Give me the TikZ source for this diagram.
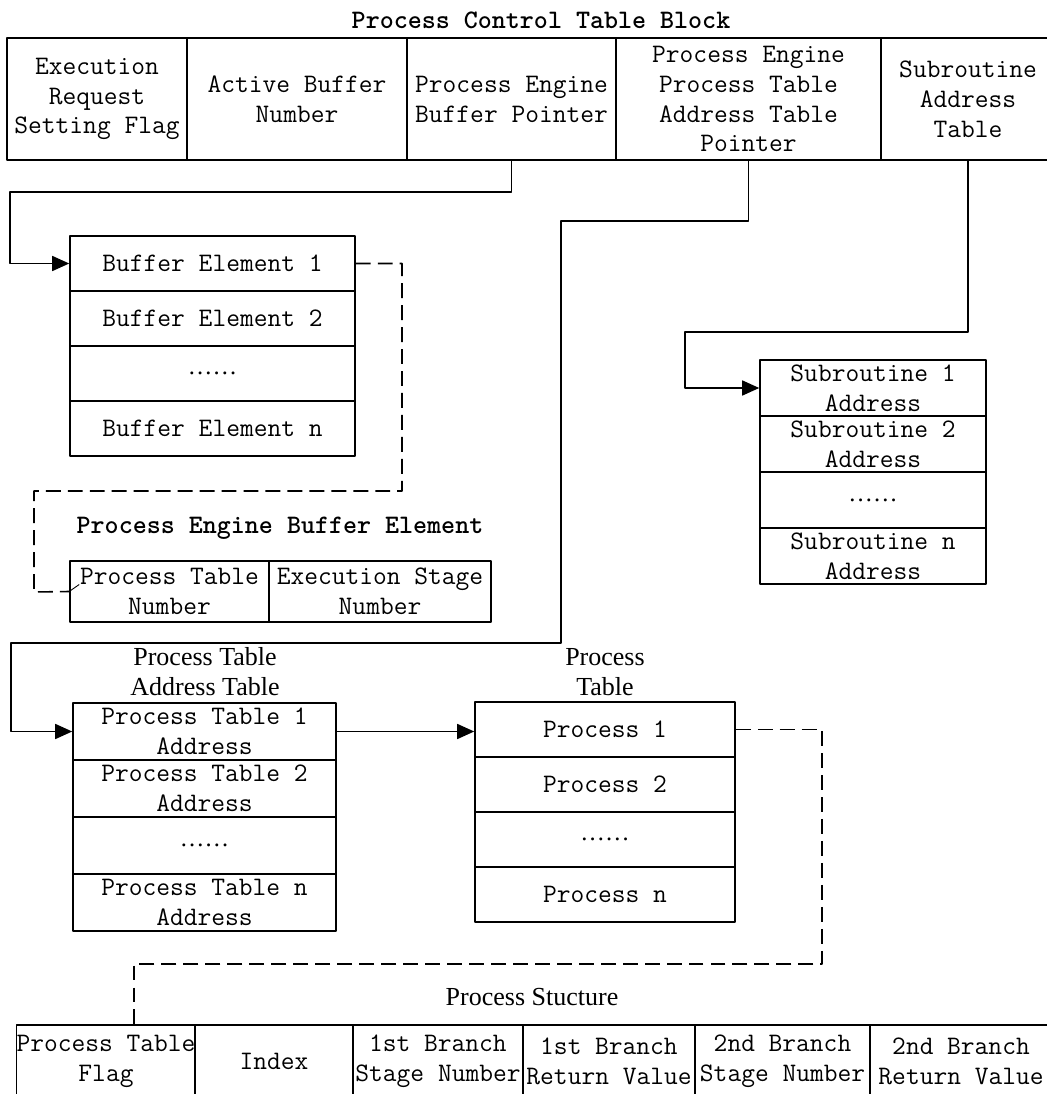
\documentclass[tikz,border=0pt]{standalone}
\usepackage{fontspec}
\usetikzlibrary{arrows.meta}
\newfontfamily\headfont{Liberation Serif}
\newcommand\rowdots{{\headfont\fontsize{14}{14}\selectfont ……}}
\begin{document}
\begin{tikzpicture}[x=0.02cm, y=-0.02cm, line join=round, line width=0.9pt,
  >={Triangle[length=0.34cm,width=0.3cm]},
  font=\ttfamily\fontsize{15.2}{17}\selectfont,
  cell/.style 2 args={draw, align=center, inner sep=0pt, minimum width=#1*0.02cm, minimum height=#2*0.02cm},
  ttl/.style={font=\ttfamily\bfseries\fontsize{15.2}{17}\selectfont},
  hd/.style={font=\headfont\fontsize{14.8}{17}\selectfont, align=center},
  gap/.style={dash pattern=on 8.5pt off 4pt}]
\useasboundingbox (0,0) rectangle (1046,1094);

% process control table block
\node[ttl] (pctb) at (541,20) {Process Control Table Block};
\node[cell={180}{122}] (c1) at (97,99) {Execution\\Request\\Setting Flag};
\node[cell={220}{122}] (c2) at (297,99) {Active Buffer\\Number};
\node[cell={209}{122}] (c3) at (511.5,99) {Process Engine\\Buffer Pointer};
\node[cell={265}{122}] (c4) at (748.5,99) {Process Engine\\Process Table\\Address Table\\Pointer};
\node[cell={174}{122}] (c5) at (968,99) {Subroutine\\Address\\Table};

% buffer
\node[cell={285}{55}] (buf1) at (212.5,263.5) {Buffer Element 1};
\node[cell={285}{55}] (buf2) at (212.5,318.5) {Buffer Element 2};
\node[cell={285}{55}] (buf3) at (212.5,373.5) {\rowdots};
\node[cell={285}{55}] (buf4) at (212.5,428.5) {Buffer Element n};

% subroutine address table
\node[cell={226}{56}] (sub1) at (873,388) {Subroutine 1\\Address};
\node[cell={226}{56}] (sub2) at (873,444) {Subroutine 2\\Address};
\node[cell={226}{56}] (sub3) at (873,500) {\rowdots};
\node[cell={226}{56}] (sub4) at (873,556) {Subroutine n\\Address};

% buffer element
\node[ttl] (pebe) at (280,528) {Process Engine Buffer Element};
\node[cell={199}{61}] (peb1) at (169.5,591.5) {Process Table\\Number};
\node[cell={222}{61}] (peb2) at (380,591.5) {Execution Stage\\Number};

% process table address table
\node[hd] (ptat) at (205,672) {Process Table\\Address Table};
\node[cell={263}{57}] (adr1) at (204.5,731.5) {Process Table 1\\Address};
\node[cell={263}{57}] (adr2) at (204.5,788.5) {Process Table 2\\Address};
\node[cell={263}{57}] (adr3) at (204.5,845.5) {\rowdots};
\node[cell={263}{57}] (adr4) at (204.5,902.5) {Process Table n\\Address};

% process table
\node[hd] (pt) at (605,672) {Process\\Table};
\node[cell={260}{55}] (proc1) at (605,729.5) {Process 1};
\node[cell={260}{55}] (proc2) at (605,784.5) {Process 2};
\node[cell={260}{55}] (proc3) at (605,839.5) {\rowdots};
\node[cell={260}{55}] (proc4) at (605,894.5) {Process n};

% process structure
\node[hd] (ps) at (532,997) {Process Stucture};
\node[cell={178}{72}] (st1) at (106,1061) {Process Table\\Flag};
\node[cell={158}{72}] (st2) at (274,1061) {Index};
\node[cell={170}{72}] (st3) at (438,1061) {1st Branch\\Stage Number};
\node[cell={172}{72}] (st4) at (609,1061) {1st Branch\\Return Value};
\node[cell={175}{72}] (st5) at (782.5,1061) {2nd Branch\\Stage Number};
\node[cell={182}{72}] (st6) at (961,1061) {2nd Branch\\Return Value};

% pointers
\coordinate (k1) at (10,192);
\draw[->] (c3.south) |- (k1) |- (buf1.west);
\coordinate (k2) at (561,221);
\coordinate (k3) at (11,643);
\draw[->] (c4.south) |- (k2) |- (k3) |- (adr1.west);
\coordinate (k4) at (685,332);
\draw[->] (c5.south) |- (k4) |- (sub1.west);
\draw[->] (adr1.east) -- (adr1.east -| proc1.west);

\coordinate (d1) at (402,491);
\coordinate (d2) at (34,592);
\draw[gap] (buf1.east) -| (d1) -| (d2) -- (peb1.west);
\draw[line width=0.5pt] (peb1.west) -- ++(10,-7);
\coordinate (d3) at (822,964);
\coordinate (d4) at (134,964);
\draw[gap] (proc1.east) -| (d3) -- (d4) -- (d4 |- st1.north);
\end{tikzpicture}
\end{document}
